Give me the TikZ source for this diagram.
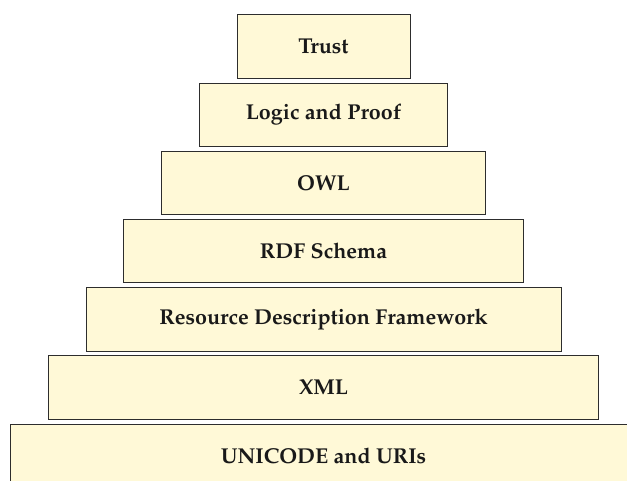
\documentclass[tikz,border=0pt]{standalone}
\usepackage[T1]{fontenc}
\usepackage{mathpazo}
\definecolor{layerfill}{RGB}{255,249,215}
\definecolor{layerdraw}{RGB}{45,45,45}
\tikzset{
  layer/.style={draw=layerdraw, line width=1pt, fill=layerfill, minimum height=63.5pt,
    inner sep=0pt, outer sep=0pt, font=\fontsize{21.5}{25}\selectfont\bfseries, text=black!90}
}
\begin{document}
\begin{tikzpicture}[x=1pt,y=-1pt]
\useasboundingbox (0,0) rectangle (627,481);
\clip (0,0) rectangle (627,481);
\fill[white] (0,0) rectangle (627,481);
\node[layer, minimum width=173pt] (trust) at (323.5,46.75) {Trust};
\node[layer, minimum width=248.5pt] (logic) at (323.5,114.92) {Logic and Proof};
\node[layer, minimum width=324pt] (owl) at (323.5,183.08) {OWL};
\node[layer, minimum width=399.5pt] (rdfs) at (323.5,251.25) {RDF Schema};
\node[layer, minimum width=475pt] (rdf) at (323.5,319.42) {Resource Description Framework};
\node[layer, minimum width=550.5pt] (xml) at (323.5,387.58) {XML};
\node[layer, minimum width=626pt] (uni) at (323.5,455.75) {UNICODE and URIs};
\end{tikzpicture}
\end{document}
